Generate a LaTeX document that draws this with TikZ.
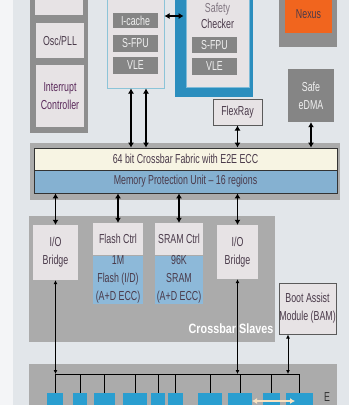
\documentclass[tikz,border=0pt]{standalone}
\usepackage{fontspec}
\setmainfont{Liberation Sans}[FakeStretch=0.68]
\newfontfamily\slavesfont{Liberation Sans}[FakeStretch=0.8]
\usetikzlibrary{arrows.meta,positioning}

\definecolor{bg}{HTML}{E2E6EA}
\definecolor{panelgrey}{HTML}{ABABAB}
\definecolor{colgrey}{HTML}{8E8E8E}
\definecolor{darkbox}{HTML}{858585}
\definecolor{lightbox}{HTML}{E7E3E5}
\definecolor{memblue}{HTML}{8DB9D9}
\definecolor{mpublue}{HTML}{85B1D1}
\definecolor{fabric}{HTML}{F7F4E3}
\definecolor{coreblue}{HTML}{8CC4D8}
\definecolor{chkblue}{HTML}{2B8EBE}
\definecolor{nexusorange}{HTML}{F1651E}
\definecolor{periblue}{HTML}{2A9ED0}
\definecolor{ink}{HTML}{4A3A4A}
\definecolor{edgegrey}{HTML}{5A5A5A}

\begin{document}
\begin{tikzpicture}[x=1pt,y=-1pt,font=\fontsize{13}{18}\selectfont,
  box/.style={rectangle,inner sep=0pt,align=center,text=ink},
  lite/.style={box,fill=lightbox},
  dark/.style={box,fill=darkbox,text=white!88!darkbox},
  mem/.style={box,fill=memblue},
  panel/.style={rectangle,inner sep=0pt,fill=panelgrey},
  periph/.style={rectangle,inner sep=0pt,fill=periblue,minimum height=20pt},
  xlink/.style={{Latex[length=5pt,width=6pt]}-{Latex[length=5pt,width=6pt]},line width=1.5pt},
  plink/.style={{Latex[length=4pt,width=4pt]}-{Latex[length=4pt,width=4pt]},line width=0.8pt}]

  \useasboundingbox (0,0) rectangle (349,405);
  \fill[bg] (0,0) rectangle (349,405);
  \fill[white!60!bg] (0,0) rectangle (13,405);

  % system control column
  \node[panel,fill=colgrey,minimum width=58pt,minimum height=150pt] (sysctl) at (59,58) {};
  \node[lite,minimum width=48pt,minimum height=30pt] (topblk) at (59,0) {};
  \node[lite,minimum width=48pt,minimum height=35pt] (osc) at (60,40.5) {Osc/PLL};
  \node[lite,text=ink!70!violet,minimum width=48pt,minimum height=62pt] (intc) at (60,96) {Interrupt\\Controller};

  % core and checker
  \node[box,fill=lightbox,draw=coreblue,line width=1pt,minimum width=57pt,minimum height=110pt] (core) at (135.5,33) {};
  \node[dark,minimum width=45pt,minimum height=15pt] (icache) at (135.5,20.5) {I-cache};
  \node[dark,minimum width=45pt,minimum height=17pt] (sfpu) at (135.5,43.5) {S-FPU};
  \node[dark,minimum width=45pt,minimum height=17pt] (vle) at (135.5,65.5) {VLE};

  \node[box,fill=chkblue,minimum width=78pt,minimum height=117pt] (chkout) at (214,38.5) {};
  \node[box,fill=lightbox,draw=chkblue!60!white,line width=0.6pt,minimum width=63pt,minimum height=107pt] (chkin) at (217.5,33.5) {};
  \node[box,text=ink!70] (safety) at (217.5,9) {Safety};
  \node[box] (checker) at (217.5,24) {Checker};
  \node[dark,minimum width=45pt,minimum height=16pt] (csfpu) at (214.5,45) {S-FPU};
  \node[dark,minimum width=45pt,minimum height=17pt] (cvle) at (214.5,66.5) {VLE};

  \coordinate (cklvl) at (170,16);
  \draw[xlink,line width=2pt] (core.east |- cklvl) -- ([xshift=-2pt]chkin.west |- cklvl);

  % nexus, flexray, edma
  \node[panel,fill=colgrey,minimum width=58pt,minimum height=60pt] (nexframe) at (308,17) {};
  \node[box,fill=nexusorange,minimum width=47pt,minimum height=38pt] (nexus) at (308.5,14) {Nexus};
  \node[lite,draw=edgegrey,line width=1pt,minimum width=49pt,minimum height=26pt] (flexray) at (237.5,112) {FlexRay};
  \node[dark,minimum width=46pt,minimum height=53pt] (edma) at (311,95.5) {Safe\\eDMA};

  % crossbar
  \node[panel,minimum width=310pt,minimum height=57pt] (xbarbg) at (185,171.5) {};
  \node[box,fill=fabric,draw=black!80,line width=0.8pt,minimum width=303pt,minimum height=22pt] (fabric) at (185.5,159) {64 bit Crossbar Fabric with E2E ECC};
  \node[box,fill=mpublue,draw=black!80,line width=0.8pt,minimum width=303pt,minimum height=23pt] (mpu) at (185.5,181.5) {Memory Protection Unit -- 16 regions};

  \coordinate (m0) at ([xshift=-4.5pt]core.south);
  \coordinate (m1) at ([xshift=10.5pt]core.south);
  \draw[xlink] (m0) -- (m0 |- fabric.north);
  \draw[xlink] (m1) -- (m1 |- fabric.north);
  \draw[xlink] (flexray.south) -- (flexray.south |- fabric.north);
  \draw[xlink] (edma.south) -- (edma.south |- fabric.north);

  % crossbar slaves
  \node[panel,minimum width=246pt,minimum height=126pt] (slaves) at (152,279) {};
  \node[text=white,font=\slavesfont\bfseries\fontsize{13.5}{13.5}\selectfont] (slvlbl) at (231,329) {Crossbar Slaves};
  \node[lite,minimum width=45pt,minimum height=55pt] (iol) at (55.5,252.5) {I/O\\Bridge};
  \node[lite,minimum width=50pt,minimum height=32pt] (flashctl) at (118,239) {Flash Ctrl};
  \node[mem,minimum width=50pt,minimum height=48pt] (flash) at (118,279.5) {1M\\Flash (I/D)\\(A+D ECC)};
  \node[lite,minimum width=48pt,minimum height=32pt] (sramctl) at (179,239) {SRAM Ctrl};
  \node[mem,minimum width=48pt,minimum height=48pt] (sram) at (179,279.5) {96K\\SRAM\\(A+D ECC)};
  \node[lite,minimum width=41pt,minimum height=54pt] (ior) at (237.5,252) {I/O\\Bridge};
  \node[lite,draw=edgegrey,line width=1pt,minimum width=57pt,minimum height=51pt] (bam) at (307.5,308.5) {Boot Assist\\Module (BAM)};

  \draw[xlink] (iol.north |- mpu.south) -- (iol.north);
  \draw[xlink] (flashctl.north |- mpu.south) -- (flashctl.north);
  \draw[xlink] (sramctl.north |- mpu.south) -- (sramctl.north);
  \draw[xlink] (ior.north |- mpu.south) -- (ior.north);

  % peripheral bus
  \node[panel,minimum width=308pt,minimum height=50pt] (peribg) at (183,389) {};
  \coordinate (busL) at (0,374);
  \foreach \c/\w [count=\i] in {55/16,80/14,104.5/21,135/24,158/14,175.5/15,210/24,240/24,271.5/17,299.5/27} {
    \node[periph,minimum width=\w pt] (p\i) at (\c,403) {};
    \draw[line width=0.8pt] (p\i.north |- busL) -- (p\i.north);
  }
  \draw[line width=0.8pt] (p1.north |- busL) -- (p10.north |- busL);

  \coordinate (b0) at ([xshift=-19.5pt]bam.south);
  \draw[plink] (iol.south) -- (iol.south |- busL);
  \draw[plink] (ior.south) -- (ior.south |- busL);
  \draw[plink] (b0) -- (b0 |- busL);

  \coordinate (dl) at (252,401);
  \coordinate (dr) at (295,401);
  \draw[{Latex[length=5pt,width=6pt]}-{Latex[length=5pt,width=6pt]},line width=2pt,fabric!85!orange] (dl) -- (dr);
  \node[box,text=black!80] (elbl) at (327,397) {E};

\end{tikzpicture}
\end{document}
